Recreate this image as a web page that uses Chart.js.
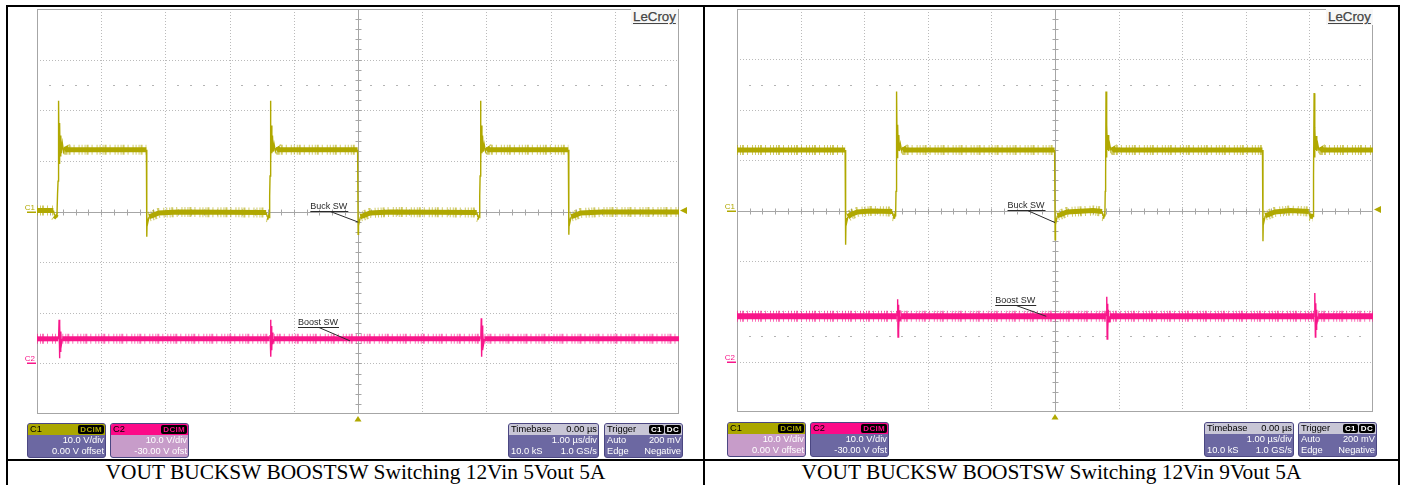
<!DOCTYPE html>
<html>
<head>
<meta charset="utf-8">
<script src="https://cdn.jsdelivr.net/npm/chart.js@4.4.1/dist/chart.umd.min.js"></script>
<style>
  html, body { margin: 0; padding: 0; background: #fff; }
  #page { position: relative; width: 1404px; height: 485px; overflow: hidden;
          font-family: "Liberation Sans", Arial, sans-serif; }
  .rule { position: absolute; background: #000; z-index: 5; }
  canvas { position: absolute; }
  .cap { position: absolute; top: 461px; height: 23px; line-height: 23px;
         font-family: "Liberation Serif", "Times New Roman", serif; font-size: 21.4px;
         text-align: center; color: #000; white-space: nowrap; }
  .logo { position: absolute; font-size: 13.3px; color: #454545; text-decoration: underline;
          text-underline-offset: 2px; background: #f7f7f7; padding: 0 2px; line-height: 16px;
          -webkit-text-stroke: 0.25px #454545; }
  .box { position: absolute; border: 1px solid #4b4782; border-radius: 3px; overflow: hidden;
         font-size: 9.3px; line-height: 11px; box-sizing: border-box; }
  .box .hd { height: 11px; display: flex; justify-content: space-between; align-items: center;
             padding: 0 1px 0 2px; color: #000; }
  .box .row { height: 11px; display: flex; justify-content: space-between; padding: 0 1px 0 2px; color: #fff; }
  .badge { background: #000; border-radius: 2px; font-weight: bold; font-size: 8px; line-height: 9px;
           padding: 0 2px; margin-left: 1px; letter-spacing: 0.3px; }
</style>
</head>
<body>
<div id="page">
  <canvas id="scopeA" width="694" height="452" style="left:8px;top:7px"></canvas>
  <canvas id="scopeB" width="691" height="452" style="left:706px;top:7px"></canvas>
</div>
<script>
// ---------------- Captured waveforms: time in µs, amplitude in volts ----------------

// 12 Vin -> 5 Vout, buck switch node (C1)
const buckSw5T = [-5.000, -4.745, -4.725, -4.690, -4.680, -4.672, -4.664, -4.656, -4.648, -4.640, -4.630, -4.620, -4.605, -4.585, -4.560, -4.530, -3.296,
  -3.290, -3.284, -3.274, -3.254, -3.204, -3.104, -2.800, -1.430, -1.412, -1.385,
  -1.376, -1.370, -1.364, -1.357, -1.350, -1.342, -1.332, -1.322, -1.307, -1.287, -1.262, -1.230, -0.006,
  0.002, 0.008, 0.018, 0.038, 0.088, 0.188, 0.500, 1.850, 1.868, 1.890,
  1.896, 1.902, 1.908, 1.915, 1.922, 1.930, 1.940, 1.950, 1.965, 1.985, 2.010, 2.042, 3.276,
  3.284, 3.290, 3.300, 3.320, 3.370, 3.470, 3.800, 5.000];
const buckSw5V = [0.2, 0.2, -0.8, -1.2, 3.5, 6.0, 21.9, 9.5, 17.5, 11.0, 15.0, 11.5, 13.5, 11.8, 12.8, 12.2, 12.2,
  -5.0, -1.5, -2.2, -1.0, -0.8, -0.3, -0.1, -0.2, -1.1, -1.2,
  3.0, 7.0, 21.9, 10.0, 17.0, 11.5, 15.0, 11.8, 13.3, 11.9, 12.7, 12.2, 12.2,
  -4.5, -1.5, -2.2, -1.0, -0.8, -0.3, -0.1, -0.2, -1.1, -1.2,
  3.0, 7.0, 21.9, 10.0, 17.0, 11.5, 15.0, 11.8, 13.3, 11.9, 12.7, 12.2, 12.2,
  -4.6, -1.5, -2.2, -1.0, -0.8, -0.3, -0.1, -0.1];

// 12 Vin -> 5 Vout, boost switch node (C2)
const boostSw5T = [-5.000, -4.670, -4.662, -4.656, -4.650, -4.644, -4.638, -4.630, -4.620, -4.606,
  -1.376, -1.368, -1.362, -1.356, -1.350, -1.344, -1.336, -1.326, -1.312,
  1.906, 1.914, 1.920, 1.926, 1.932, 1.938, 1.946, 1.956, 1.970, 5.000];
const boostSw5V = [4.85, 4.85, 5.6, 8.6, 1.0, 7.6, 2.4, 6.3, 3.7, 4.85,
  4.85, 5.6, 8.6, 1.3, 7.4, 2.6, 6.1, 3.8, 4.85,
  4.85, 5.6, 8.9, 1.3, 7.5, 2.6, 6.1, 3.8, 4.85, 4.85];

// 12 Vin -> 9 Vout, buck switch node (C1)
const buckSw9T = [-5.000, -3.300, -3.292, -3.286, -3.276, -3.256, -3.206, -3.106, -2.900, -2.560, -2.545, -2.506,
  -2.500, -2.494, -2.488, -2.481, -2.474, -2.466, -2.456, -2.446, -2.431, -2.411, -2.386, -2.355, -0.006,
  0.002, 0.008, 0.018, 0.038, 0.088, 0.188, 0.600, 0.740, 0.755, 0.784,
  0.790, 0.796, 0.802, 0.809, 0.816, 0.824, 0.834, 0.844, 0.859, 0.879, 0.904, 0.935, 3.262,
  3.270, 3.276, 3.286, 3.306, 3.356, 3.456, 3.700, 3.990, 4.005, 4.058,
  4.062, 4.068, 4.074, 4.081, 4.088, 4.096, 4.106, 4.116, 4.131, 4.151, 4.176, 4.207, 5.000];
const buckSw9V = [12.0, 12.0, -6.8, -1.5, -2.4, -1.2, -0.8, -0.3, -0.1, -0.2, -1.1, -1.2,
  3.8, 7.0, 23.6, 10.5, 17.0, 12.0, 15.0, 11.8, 13.2, 11.9, 12.6, 12.0, 12.0,
  -5.8, -1.5, -2.2, -1.0, -0.8, -0.3, 0.0, -0.2, -1.1, -1.2,
  3.8, 7.0, 23.6, 10.5, 17.0, 12.0, 15.0, 11.8, 13.2, 11.9, 12.6, 12.0, 12.0,
  -6.1, -1.5, -2.2, -1.0, -0.8, -0.3, 0.0, -0.2, -1.1, -1.2,
  3.8, 7.0, 23.3, 10.5, 16.5, 12.0, 14.8, 11.8, 13.2, 11.9, 12.6, 12.0, 12.0];

// 12 Vin -> 9 Vout, boost switch node (C2)
const boostSw9T = [-5.000, -2.488, -2.480, -2.474, -2.468, -2.462, -2.456, -2.448, -2.438, -2.424,
  0.800, 0.808, 0.814, 0.820, 0.826, 0.832, 0.840, 0.850, 0.864,
  4.074, 4.082, 4.088, 4.094, 4.100, 4.106, 4.114, 4.124, 4.138, 5.000];
const boostSw9V = [9.0, 9.0, 9.9, 12.4, 4.9, 11.3, 6.4, 10.2, 8.0, 9.0,
  9.0, 9.9, 12.9, 4.5, 11.5, 6.2, 10.3, 7.9, 9.0,
  9.0, 9.9, 13.6, 4.9, 11.6, 6.4, 10.3, 8.0, 9.0, 9.0];

// Vertical settings (10 V/div, C2 shown with a -30 V offset) and horizontal window
const timeWindowUs = [-5, 5];
const c1RangeV = [-40, 40];
const c2RangeV = [-10, 70];
const triggerLevelV = 0.2;
const captions = ['VOUT BUCKSW BOOSTSW Switching 12Vin 5Vout 5A',
                  'VOUT BUCKSW BOOSTSW Switching 12Vin 9Vout 5A'];

// ---------------- Colours ----------------
const C1_COLOR = '#b0a800';
const C1_HALO = 'rgba(176,168,0,0.6)';
const C2_COLOR = '#f8168a';
const C2_HALO = 'rgba(248,22,138,0.6)';
const GRID = '#bababa';
const AXIS = '#a6a6a6';

const toPoints = (ts, vs) => ts.map((t, i) => ({ x: t, y: vs[i] }));

// thin strokes on fast edges, thick band on the flat parts
const isSteep = c => Math.abs(c.p1.y - c.p0.y) > 1.5 * Math.abs(c.p1.x - c.p0.x) + 1;
const CLEAR = 'rgba(0,0,0,0)';

function traceSets(pts, axis, color, halo, band) {
  return [
    { data: pts, yAxisID: axis, borderColor: color, borderWidth: band, pointRadius: 0, tension: 0, order: 0,
      segment: { borderWidth: c => isSteep(c) ? 1.4 : band } },
    // grainy outer fringe of the acquisition noise
    { data: pts, yAxisID: axis, borderColor: halo, borderWidth: band + 5, pointRadius: 0, tension: 0, order: 1,
      borderDash: [1, 2, 1, 1, 2, 3, 1, 4, 1, 2], borderCapStyle: 'butt',
      segment: { borderColor: c => isSteep(c) ? CLEAR : halo } }
  ];
}

// Graticule: dotted divisions, solid centre crosshair with 0.2-div ticks, half-scale dot rows
const graticule = {
  id: 'graticule',
  beforeDatasetsDraw(chart) {
    const { ctx, chartArea: a, scales: { x, y } } = chart;
    const px = v => Math.round(x.getPixelForValue(v)) + 0.5;
    const py = v => Math.round(y.getPixelForValue(v)) + 0.5;
    ctx.save();
    ctx.lineWidth = 1;
    ctx.strokeStyle = GRID;
    ctx.setLineDash([1, 2]);
    for (let t = timeWindowUs[0] + 1; t < timeWindowUs[1]; t++) {
      if (t === 0) continue;
      ctx.beginPath(); ctx.moveTo(px(t), a.top); ctx.lineTo(px(t), a.bottom); ctx.stroke();
    }
    for (let v = c1RangeV[0] + 10; v < c1RangeV[1]; v += 10) {
      if (v === 0) continue;
      ctx.beginPath(); ctx.moveTo(a.left, py(v)); ctx.lineTo(a.right, py(v)); ctx.stroke();
    }
    ctx.setLineDash([]);
    // half-division dot rows
    ctx.fillStyle = '#b4b4b4';
    for (const v of [25, -25]) {
      const yy = Math.round(y.getPixelForValue(v));
      for (let k = 1; k < 50; k++) {
        if (k % 5 === 0) continue;
        const xx = Math.round(x.getPixelForValue(timeWindowUs[0] + k * 0.2));
        ctx.fillRect(xx - 1, yy, 2, 1);
      }
    }
    // outer frame
    ctx.strokeStyle = AXIS;
    ctx.strokeRect(Math.round(a.left) + 0.5, Math.round(a.top) + 0.5,
                   Math.round(a.right) - Math.round(a.left) - 1, Math.round(a.bottom) - Math.round(a.top) - 1);
    // centre crosshair with minor ticks
    const x0 = px(0), y0 = py(0);
    ctx.beginPath();
    ctx.moveTo(x0, a.top); ctx.lineTo(x0, a.bottom);
    ctx.moveTo(a.left, y0); ctx.lineTo(a.right, y0);
    for (let k = 1; k < 50; k++) {
      const xx = px(timeWindowUs[0] + k * 0.2);
      ctx.moveTo(xx, y0 - 3); ctx.lineTo(xx, y0 + 3);
    }
    for (let k = 1; k < 40; k++) {
      const yy = py(c1RangeV[0] + k * 2);
      ctx.moveTo(x0 - 3, yy); ctx.lineTo(x0 + 3, yy);
    }
    ctx.stroke();
    ctx.restore();
  }
};

// Channel markers, trigger markers and trace call-outs
const scopeMarks = {
  id: 'scopeMarks',
  afterDatasetsDraw(chart, args, opts) {
    const { ctx, chartArea: a, scales: { x, y, y2 } } = chart;
    ctx.save();
    ctx.font = '8px "Liberation Sans", Arial, sans-serif';
    ctx.textAlign = 'right';
    ctx.textBaseline = 'alphabetic';
    const g1 = Math.round(y.getPixelForValue(0));
    const g2 = Math.round(y2.getPixelForValue(0));
    [[g1, 'C1', C1_COLOR], [g2, 'C2', C2_COLOR]].forEach(([gy, label, col]) => {
      ctx.fillStyle = col;
      ctx.fillText(label, a.left - 2, gy - 2);
      ctx.fillRect(a.left - 10, gy - 0.5, 9, 1.5);
    });
    // trigger level (right edge) and trigger position (bottom edge)
    ctx.fillStyle = C1_COLOR;
    const ty = y.getPixelForValue(triggerLevelV);
    ctx.beginPath(); ctx.moveTo(a.right + 1, ty); ctx.lineTo(a.right + 8, ty - 3.5); ctx.lineTo(a.right + 8, ty + 3.5); ctx.closePath(); ctx.fill();
    const tx = x.getPixelForValue(0);
    ctx.beginPath(); ctx.moveTo(tx, a.bottom + 2); ctx.lineTo(tx - 3.5, a.bottom + 7.5); ctx.lineTo(tx + 3.5, a.bottom + 7.5); ctx.closePath(); ctx.fill();
    // call-outs
    ctx.font = '9px "Liberation Sans", Arial, sans-serif';
    ctx.textAlign = 'left';
    ctx.strokeStyle = '#2a2a2a';
    ctx.fillStyle = '#2a2a2a';
    ctx.lineWidth = 1;
    for (const c of opts.callouts) {
      const sx = x.getPixelForValue(c.t);
      const sy = (c.axis === 'y2' ? y2 : y).getPixelForValue(c.v);
      const uy = Math.round(sy + c.dy) + 0.5;
      const w = ctx.measureText(c.text).width;
      const left = sx + c.dx;
      ctx.fillText(c.text, left, uy - 2.5);
      ctx.beginPath();
      ctx.moveTo(left, uy); ctx.lineTo(left + w + 1, uy);
      ctx.moveTo(left + c.lead, uy); ctx.lineTo(sx, sy);
      ctx.stroke();
    }
    ctx.restore();
  }
};

function scope(id, buckT, buckV, boostT, boostV, padding, bands, callouts) {
  new Chart(document.getElementById(id), {
    type: 'line',
    data: {
      datasets: [
        ...traceSets(toPoints(buckT, buckV), 'y', C1_COLOR, C1_HALO, bands[0]),
        ...traceSets(toPoints(boostT, boostV), 'y2', C2_COLOR, C2_HALO, bands[1])
      ]
    },
    options: {
      responsive: false, animation: false, devicePixelRatio: 1, events: [],
      layout: { padding },
      plugins: { legend: { display: false }, tooltip: { enabled: false }, scopeMarks: { callouts } },
      scales: {
        x: { type: 'linear', min: timeWindowUs[0], max: timeWindowUs[1], display: false },
        y: { type: 'linear', min: c1RangeV[0], max: c1RangeV[1], display: false },
        y2: { type: 'linear', min: c2RangeV[0], max: c2RangeV[1], display: false }
      }
    },
    plugins: [graticule, scopeMarks]
  });
}

scope('scopeA', buckSw5T, buckSw5V, boostSw5T, boostSw5V,
  { left: 29, top: 2, right: 23, bottom: 45 }, [5, 5],
  [{ text: 'Buck SW', t: 0.005, v: -2.1, axis: 'y', dx: -48, dy: -11.6, lead: 20 },
   { text: 'Boost SW', t: -0.125, v: 4.45, axis: 'y2', dx: -52, dy: -14, lead: 21 }]);

scope('scopeB', buckSw9T, buckSw9V, boostSw9T, boostSw9V,
  { left: 31, top: 2, right: 24, bottom: 47 }, [5, 6],
  [{ text: 'Buck SW', t: 0.0, v: -2.4, axis: 'y', dx: -47.5, dy: -12.3, lead: 20 },
   { text: 'Boost SW', t: -0.138, v: 9.0, axis: 'y2', dx: -51, dy: -11, lead: 21 }]);

// ---------------- Page frame, read-out boxes, captions ----------------
const page = document.getElementById('page');
function el(cls, css, html) {
  const d = document.createElement('div');
  d.className = cls; d.style.cssText = css; if (html !== undefined) d.innerHTML = html;
  page.appendChild(d); return d;
}
[['left:6px;top:5px;width:2px;height:480px'], ['left:703px;top:5px;width:2px;height:480px'],
 ['left:1398px;top:5px;width:2px;height:480px'], ['left:6px;top:5px;width:1394px;height:2px'],
 ['left:6px;top:459px;width:1394px;height:2px']].forEach(([css]) => el('rule', css));

el('cap', 'left:8px;width:695px', captions[0]);
el('cap', 'left:705px;width:693px', captions[1]);
el('logo', 'left:631px;top:9px', 'LeCroy');
el('logo', 'left:1326px;top:9px', 'LeCroy');

const DARK = '#6c68a2', LIGHT = '#c79cc9', GREYHD = '#c8c6d6';
function box(x, y, w, head, bodyBg, rows) {
  const b = el('box', `left:${x}px;top:${y}px;width:${w}px;height:35px;background:${bodyBg}`);
  const hd = document.createElement('div');
  hd.className = 'hd'; hd.style.background = head.bg;
  const badges = (head.badges || []).map(([t, c]) => `<span class="badge" style="color:${c}">${t}</span>`).join('');
  hd.innerHTML = `<span>${head.left}</span><span style="display:flex;align-items:center">${head.right || ''}${badges}</span>`;
  b.appendChild(hd);
  rows.forEach(([l, r]) => {
    const row = document.createElement('div');
    row.className = 'row'; row.innerHTML = `<span>${l}</span><span>${r}</span>`;
    b.appendChild(row);
  });
}
function readouts(ox, oy, c1Body, c2Body, tbX, tbW, trX) {
  box(ox, oy, 79, { bg: '#aba700', left: 'C1', badges: [['DCIM', '#aba700']] }, c1Body,
      [['', '10.0 V/div'], ['', '0.00 V offset']]);
  box(ox + 83, oy, 79, { bg: '#fc0a88', left: 'C2', badges: [['DCIM', '#fc0a88']] }, c2Body,
      [['', '10.0 V/div'], ['', '-30.00 V ofst']]);
  box(tbX, oy, tbW, { bg: GREYHD, left: 'Timebase', right: '0.00 µs' }, DARK,
      [['', '1.00 µs/div'], ['10.0 kS', '1.0 GS/s']]);
  box(trX, oy, 79, { bg: GREYHD, left: 'Trigger', badges: [['C1', '#fff'], ['DC', '#fff']] }, DARK,
      [['Auto', '200 mV'], ['Edge', 'Negative']]);
}
readouts(27, 423, DARK, LIGHT, 508, 91, 604);
readouts(727, 422, LIGHT, DARK, 1204, 90, 1298);
</script>
</body>
</html>
